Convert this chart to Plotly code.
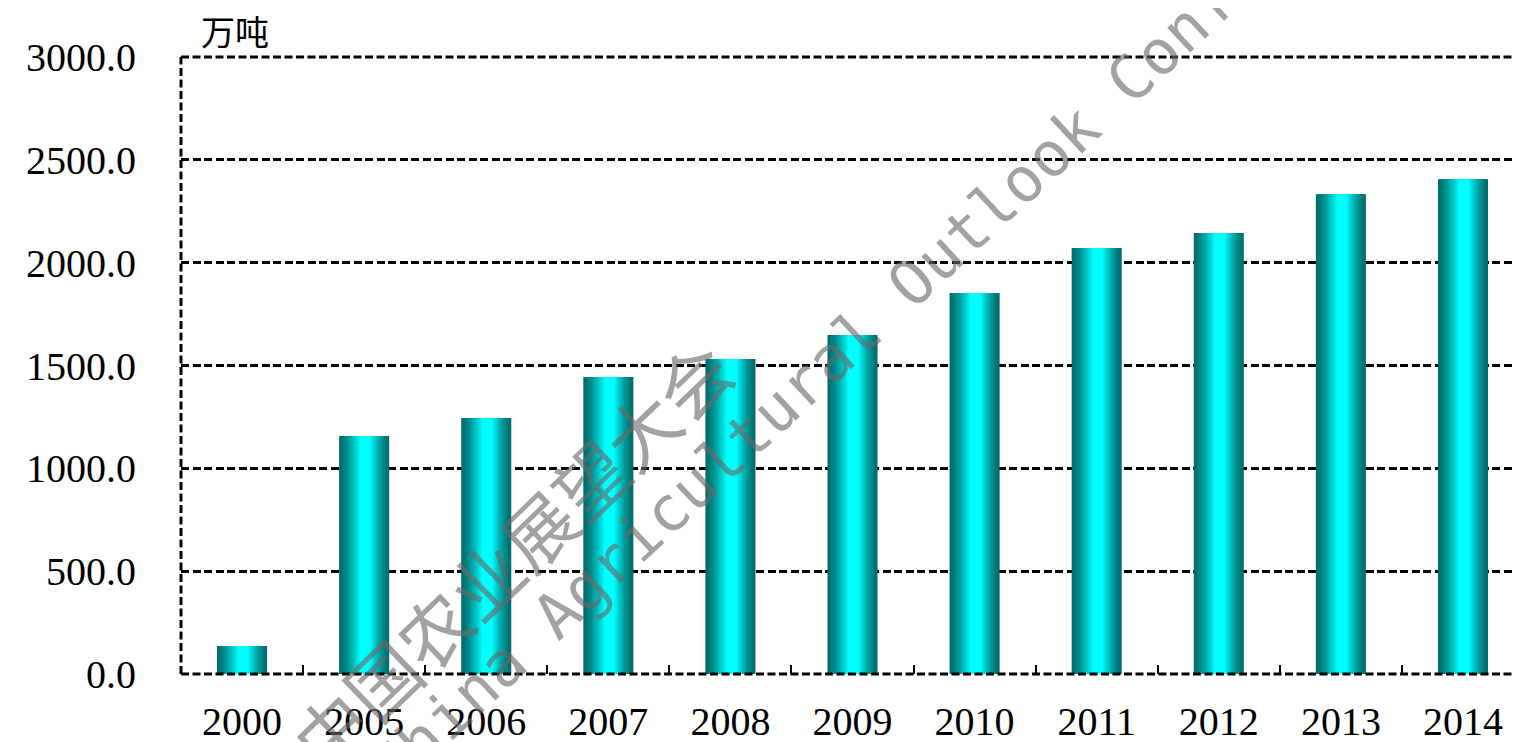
import plotly.graph_objects as go

# 年份与产量(万吨)
years = ['2000', '2005', '2006', '2007', '2008', '2009', '2010', '2011', '2012', '2013', '2014']
output = [136, 1157, 1245, 1444, 1531, 1648, 1852, 2071, 2144, 2333, 2406]
y_ticks = [0, 500, 1000, 1500, 2000, 2500, 3000]
unit_label = '万吨'
wm_cn = '中国农业展望大会'
wm_en = 'China Agricultural Outlook Conference'

# page has an 8px body margin, so the figure is sized from there
PAGE_OFF = 8
W, H = 1520 - PAGE_OFF, 742 - PAGE_OFF
L, R, T, B = 181 - PAGE_OFF, 0, 57 - PAGE_OFF, 68
pw, ph = W - L - R, H - T - B
DASH = '8px,3.5px'

fig = go.Figure()

# fake the horizontal gradient with nested bars, dark outside -> cyan inside
bar_w = 0.41
n_layers = 18
dark = (0, 110, 110)
cyan = (0, 255, 255)
p_left, p_right = 0.44, 0.60
for k in range(n_layers):
    a = p_left * k / n_layers
    b = 1 - (1 - p_right) * k / n_layers
    t = (k / (n_layers - 1)) ** 1.4
    c = tuple(round(dark[i] + (cyan[i] - dark[i]) * t) for i in range(3))
    fig.add_trace(go.Bar(x=years, y=output, width=(b - a) * bar_w,
                         offset=-bar_w / 2 + a * bar_w,
                         marker=dict(color='rgb(%d,%d,%d)' % c, line=dict(width=0)),
                         showlegend=False, hoverinfo='skip' if k < n_layers - 1 else None))

fig.update_layout(
    width=W, height=H, barmode='overlay',
    margin=dict(l=L, r=R, t=T, b=B),
    plot_bgcolor='white', paper_bgcolor='white',
    font=dict(family='Liberation Serif', size=40, color='black'),
    showlegend=False,
)
fig.update_xaxes(type='category', range=[-0.5, 10.467], showgrid=False, showline=False,
                 automargin=False,
                 ticks='inside', tickson='boundaries', ticklen=9, tickwidth=2, tickcolor='black',
                 ticklabelstandoff=20, tickfont=dict(family='Liberation Serif', size=40))
fig.update_yaxes(range=[0, 3000], tickvals=y_ticks, tickformat='.1f', showline=False,
                 automargin=False,
                 showgrid=True, gridcolor='black', gridwidth=3, griddash=DASH,
                 zeroline=False, ticks='', ticklabelstandoff=44,
                 tickfont=dict(family='Liberation Serif', size=40))

# dashed axis lines + the top grid line that plotly leaves out at the range edge
fig.add_shape(type='line', xref='paper', yref='paper', x0=0, x1=1, y0=1, y1=1,
              line=dict(color='black', width=3, dash=DASH), layer='below')
fig.add_shape(type='line', xref='paper', yref='paper', x0=0, x1=0, y0=0, y1=1,
              line=dict(color='black', width=3, dash=DASH), layer='above')
fig.add_shape(type='line', xref='paper', yref='paper', x0=0, x1=1, y0=0, y1=0,
              line=dict(color='black', width=3, dash=DASH), layer='above')

fig.add_annotation(text=unit_label, xref='paper', yref='paper', x=0, y=1, xanchor='left',
                   yanchor='middle', xshift=18, yshift=27, showarrow=False,
                   font=dict(family='Noto Sans CJK SC', size=34, color='black'))


def px2paper(px, py):
    # page pixel -> paper coords
    return (px - 181) / pw, (H - B + PAGE_OFF - py) / ph


wm_color = 'rgba(105,105,105,0.62)'
cx, cy = px2paper(510, 553)
fig.add_annotation(text=wm_cn, xref='paper', yref='paper', x=cx, y=cy, textangle=-44,
                   xanchor='center', yanchor='middle', showarrow=False,
                   font=dict(family='Noto Sans CJK SC', size=72, color=wm_color))
ex, ey = px2paper(884, 308)
fig.add_annotation(text=wm_en, xref='paper', yref='paper', x=ex, y=ey, textangle=-43,
                   xanchor='center', yanchor='middle', showarrow=False,
                   font=dict(family='DejaVu Sans Mono', size=62, color=wm_color))

fig.write_html("out.html")
